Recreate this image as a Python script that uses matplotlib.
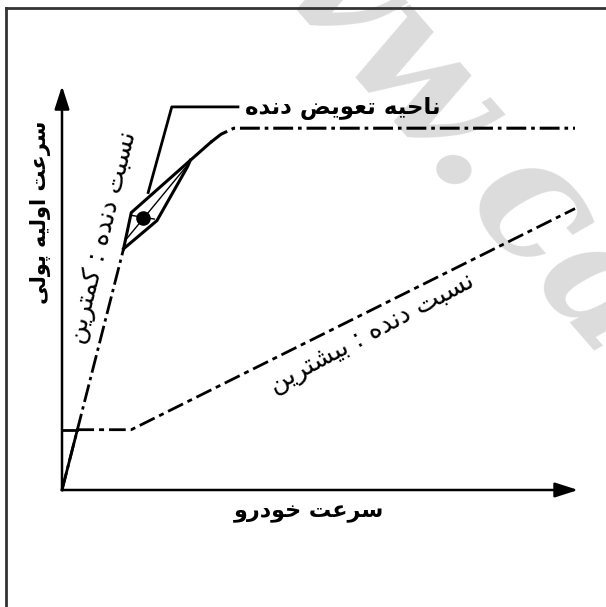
import matplotlib
matplotlib.use("Agg")
import matplotlib.pyplot as plt
from matplotlib.lines import Line2D

# ---- simple Persian shaping (matplotlib has no RTL/joining support) ----
# letter: (isolated, final, initial, medial); right-joining letters have only two forms
FORMS = {
    "ا": (0xFE8D, 0xFE8E), "د": (0xFEA9, 0xFEAA), "ر": (0xFEAD, 0xFEAE),
    "و": (0xFEED, 0xFEEE),
    "ب": (0xFE8F, 0xFE90, 0xFE91, 0xFE92), "ت": (0xFE95, 0xFE96, 0xFE97, 0xFE98),
    "ح": (0xFEA1, 0xFEA2, 0xFEA3, 0xFEA4), "خ": (0xFEA5, 0xFEA6, 0xFEA7, 0xFEA8),
    "س": (0xFEB1, 0xFEB2, 0xFEB3, 0xFEB4), "ش": (0xFEB5, 0xFEB6, 0xFEB7, 0xFEB8),
    "ض": (0xFEBD, 0xFEBE, 0xFEBF, 0xFEC0), "ع": (0xFEC9, 0xFECA, 0xFECB, 0xFECC),
    "ل": (0xFEDD, 0xFEDE, 0xFEDF, 0xFEE0), "م": (0xFEE1, 0xFEE2, 0xFEE3, 0xFEE4),
    "ن": (0xFEE5, 0xFEE6, 0xFEE7, 0xFEE8), "ه": (0xFEE9, 0xFEEA, 0xFEEB, 0xFEEC),
    "پ": (0xFB56, 0xFB57, 0xFB58, 0xFB59), "ک": (0xFB8E, 0xFB8F, 0xFB90, 0xFB91),
    "ی": (0xFBFC, 0xFBFD, 0xFBFE, 0xFBFF),
}


def fa(text):
    out = []
    for i, ch in enumerate(text):
        f = FORMS.get(ch)
        if f is None:
            out.append(ch)
            continue
        prev = text[i - 1] if i > 0 else ""
        nxt = text[i + 1] if i + 1 < len(text) else ""
        join_prev = prev in FORMS and len(FORMS[prev]) == 4
        join_next = len(f) == 4 and nxt in FORMS
        if join_prev and join_next:
            out.append(chr(f[3]))
        elif join_prev:
            out.append(chr(f[1]))
        elif join_next:
            out.append(chr(f[2]))
        else:
            out.append(chr(f[0]))
    return "".join(reversed(out))


# ---- data (vehicle speed vs. primary pulley speed, arbitrary units) ----
low_x = [0, 12]
low_y = [0, 60]
low_top_x = [29, 31, 33.5, 100]
low_top_y = [86.5, 88.5, 90, 90]
high_x = [3, 13.5, 100]
high_y = [15, 15, 70]
zone_upper_x = [12, 13.5, 25, 29]
zone_upper_y = [60, 69, 82, 86.5]
zone_lower_x = [12, 18.5, 24.5, 25]
zone_lower_y = [60, 67, 80.5, 82]
zone_inner_x = [[12.6, 24.7], [13.6, 18.0]]
zone_inner_y = [[62.5, 81.2], [68.3, 67.4]]
shift_point = (15.8, 67.6)
leader_x = [16.8, 21.4, 34.3]
leader_y = [74, 95.3, 95.3]

y_label = "سرعت اولیه پولی"
x_label = "سرعت خودرو"
low_label = "نسبت دنده : کمترین"
high_label = "نسبت دنده : بیشترین"
zone_label = "ناحیه تعویض دنده"
watermark = "www.ca"

PX_X, PX_Y = 5.13, 4.02  # pixels per unit
ORIG = (62, 490)

fig = plt.figure(figsize=(6.06, 6.07), dpi=100)
ax = fig.add_axes([0, 0, 1, 1])
ax.set_xlim(-ORIG[0] / PX_X, (606 - ORIG[0]) / PX_X)
ax.set_ylim(-(607 - ORIG[1]) / PX_Y, ORIG[1] / PX_Y)
ax.axis("off")

# frame (top and left only)
fig.add_artist(Line2D([6 / 606, 6 / 606], [0, 1 - 8 / 607], color="#333333", lw=2.0))
fig.add_artist(Line2D([6 / 606, 1], [1 - 8 / 607, 1 - 8 / 607], color="#333333", lw=2.0))

# watermark
ax.text(105.4, 30.0, watermark, fontsize=124, fontfamily="DejaVu Serif", fontweight="bold",
        fontstyle="italic", color="#dcdcdc", rotation=-49, rotation_mode="anchor",
        ha="right", va="baseline", zorder=0)

black = "black"
# axes with arrows
ax.annotate("", xy=(0, 100.5), xytext=(0, 0),
            arrowprops=dict(arrowstyle="-|>,head_length=1.4,head_width=0.45",
                            color=black, lw=1.8, shrinkA=0, shrinkB=0))
ax.annotate("", xy=(100.6, 0), xytext=(0, 0),
            arrowprops=dict(arrowstyle="-|>,head_length=1.4,head_width=0.45",
                            color=black, lw=1.8, shrinkA=0, shrinkB=0))

dashdot = (0, (6.5, 1.6, 1.2, 1.6))
ax.plot(low_x, low_y, color=black, lw=2.0, linestyle=dashdot, zorder=3)
ax.plot(low_x[:1] + [3], low_y[:1] + [15], color=black, lw=2.0, zorder=3)
ax.plot(low_top_x, low_top_y, color=black, lw=2.2, linestyle=dashdot, zorder=3)
ax.plot(high_x, high_y, color=black, lw=2.0, linestyle=(0, (6, 1.8, 1.8, 1.8)), zorder=3)
ax.plot([0, 3], [15, 15], color=black, lw=2.0, zorder=3)

# shift zone
ax.plot(zone_upper_x, zone_upper_y, color=black, lw=2.2, zorder=3)
ax.plot(zone_lower_x, zone_lower_y, color=black, lw=2.2, zorder=3)
for xs, ys in zip(zone_inner_x, zone_inner_y):
    ax.plot(xs, ys, color=black, lw=1.0, zorder=3)
ax.scatter([shift_point[0]], [shift_point[1]], s=90, color=black, zorder=4)
ax.plot(leader_x, leader_y, color=black, lw=2.0, zorder=3)

# labels
ax.text(35.6, 95.0, fa(zone_label), fontsize=16.5, fontweight="bold",
        ha="left", va="center", fontfamily="DejaVu Sans")
ax.text(-4.2, 69.2, fa(y_label), fontsize=15, fontweight="bold", rotation=90,
        ha="center", va="center", fontfamily="DejaVu Sans")
ax.text(48.2, -5.8, fa(x_label), fontsize=16, fontweight="bold",
        ha="center", va="center", fontfamily="DejaVu Sans")
ax.text(8.0, 62.9, fa(low_label), fontsize=18.5, rotation=76,
        ha="center", va="center", fontfamily="DejaVu Sans")
ax.text(60.4, 39.0, fa(high_label), fontsize=18.5, rotation=28,
        ha="center", va="center", fontfamily="DejaVu Sans")

fig.savefig("out.png", dpi=100, facecolor="white")
